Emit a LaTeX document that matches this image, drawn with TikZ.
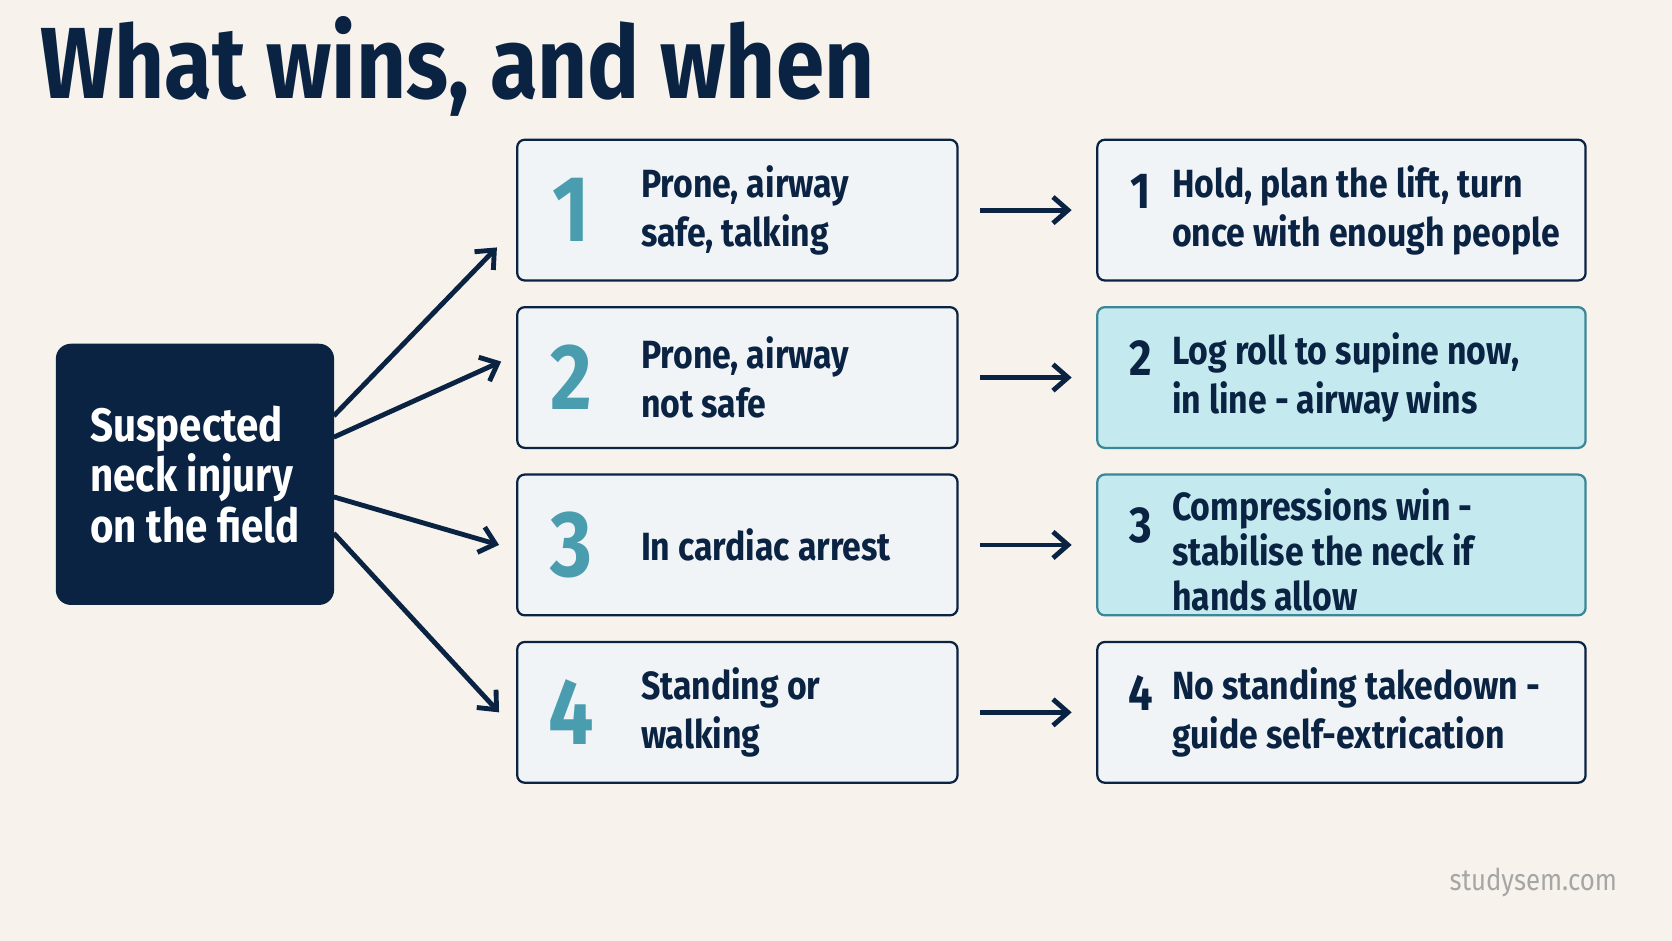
\documentclass[tikz,border=0pt]{standalone}
\usepackage{fontspec}
\setmainfont{Fira Sans}[FakeStretch=0.86]
\usetikzlibrary{positioning,arrows.meta}

\definecolor{navy}{HTML}{0B2342}
\definecolor{teal}{HTML}{4A9DAE}
\definecolor{bg}{HTML}{F7F3EC}
\definecolor{pale}{HTML}{F0F4F7}
\definecolor{cyanf}{HTML}{C4E9EE}
\definecolor{cyand}{HTML}{3A8797}

\tikzset{
  case/.style={draw=navy, line width=1.2pt, fill=pale, rounded corners=4pt,
    minimum width=8.26cm, minimum height=2.64cm, anchor=north west},
  act/.style={case, minimum width=9.16cm},
  win/.style={act, fill=cyanf, draw=cyand},
  bignum/.style={font=\fontsize{50}{50}\selectfont\bfseries, text=teal},
  smallnum/.style={font=\fontsize{27}{27}\selectfont\bfseries, text=navy},
  txt/.style={font=\fontsize{21}{26}\selectfont\bfseries, text=navy, align=left, anchor=west},
  link/.style={-{Straight Barb[length=8pt,width=14pt]}, line width=2.6pt, navy}
}

\begin{document}
\begin{tikzpicture}[x=0.02cm, y=-0.02cm]
  % Hintergrund
  \fill[bg] (0,0) rectangle (1568,882);
  \useasboundingbox (0,0) rectangle (1568,882);

  % Titel
  \node[anchor=base west, inner sep=0, text=navy, font=\fontsize{54}{54}\selectfont\bfseries]
    (title) at (38,92) {What wins, and when};

  % Ausgangslage
  \node[fill=navy, rounded corners=8pt, minimum width=5.22cm, minimum height=4.9cm,
    anchor=north west, text=white, align=left,
    font=\fontsize{25}{27}\selectfont\bfseries]
    (start) at (52,322) {Suspected\\neck injury\\on the field};

  % Faelle
  \node[case] (m1) at (484,130) {};
  \node[case] (m2) at (484,287) {};
  \node[case] (m3) at (484,444) {};
  \node[case] (m4) at (484,601) {};

  % Massnahmen
  \node[act] (r1) at (1028,130) {};
  \node[win] (r2) at (1028,287) {};
  \node[win] (r3) at (1028,444) {};
  \node[act] (r4) at (1028,601) {};

  % Nummern und Texte
  \foreach \i/\a/\b in {1/Prone{,} airway/safe{,} talking, 2/Prone{,} airway/not safe, 4/Standing or/walking}{
    \node[bignum] (n\i) at ([xshift=1.04cm]m\i.west) {\i};
    \node[txt] (t\i) at ([xshift=2.22cm]m\i.west) {\a\\\b};
  }
  \node[bignum] (n3) at ([xshift=1.04cm]m3.west) {3};
  \node[txt] (t3) at ([xshift=2.22cm]m3.west) {In cardiac arrest};

  \foreach \i in {1,...,4}
    \node[smallnum] (k\i) at ([xshift=0.84cm,yshift=0.36cm]r\i.west) {\i};
  \node[txt] (s1) at ([xshift=1.3cm]r1.west) {Hold, plan the lift, turn\\once with enough people};
  \node[txt] (s2) at ([xshift=1.3cm]r2.west) {Log roll to supine now,\\in line - airway wins};
  \node[txt, yshift=-0.1cm, font=\fontsize{21}{24}\selectfont\bfseries] (s3) at ([xshift=1.3cm]r3.west) {Compressions win -\\stabilise the neck if\\hands allow};
  \node[txt] (s4) at ([xshift=1.3cm]r4.west) {No standing takedown -\\guide self-extrication};

  % Pfeile nach rechts
  \foreach \i in {1,...,4}
    \draw[link, shorten <=0.4cm, shorten >=0.46cm] (m\i.east) -- (r\i.west);

  % Pfeile vom Ausgang
  \coordinate (o1) at (313,390);
  \coordinate (o2) at (313,410);
  \coordinate (o3) at (313,466);
  \coordinate (o4) at (313,500);
  \draw[link] (o1) -- ([xshift=-0.36cm,yshift=-0.7cm]m1.west);
  \draw[link] (o2) -- ([xshift=-0.28cm,yshift=0.3cm]m2.west);
  \draw[link] (o3) -- ([xshift=-0.32cm]m3.west);
  \draw[link] (o4) -- ([xshift=-0.32cm]m4.west);

  % Wasserzeichen
  \node[text=gray!70, font=\fontsize{16}{16}\selectfont] (mark) at (1438,828) {studysem.com};
\end{tikzpicture}
\end{document}
